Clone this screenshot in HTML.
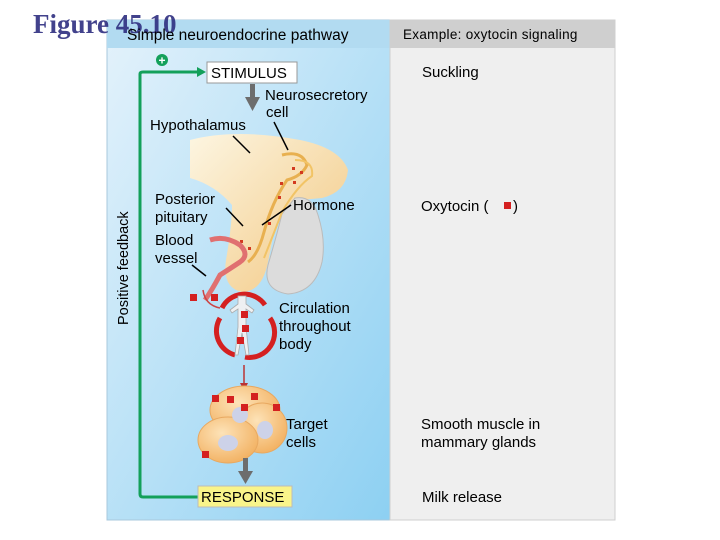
<!DOCTYPE html>
<html><head><style>
html,body{margin:0;padding:0;background:#fff;width:720px;height:540px;overflow:hidden}
svg{display:block}
.t{font-family:"Liberation Sans",Arial,sans-serif}
</style></head><body>
<svg width="720" height="540" viewBox="0 0 720 540" class="t" font-family="Liberation Sans, Arial, sans-serif">
<defs>
<linearGradient id="lb" x1="0" y1="0" x2="1" y2="1">
<stop offset="0" stop-color="#e4f2fb"/><stop offset="1" stop-color="#8dd0f2"/>
</linearGradient>
<radialGradient id="cell" cx="0.4" cy="0.35" r="0.7">
<stop offset="0" stop-color="#fde3b8"/><stop offset="1" stop-color="#f2b060"/>
</radialGradient>
<linearGradient id="hyp" x1="0" y1="0" x2="1" y2="1">
<stop offset="0" stop-color="#fff6e0"/><stop offset="1" stop-color="#f6c67a"/>
</linearGradient>
</defs>
<rect x="107" y="20" width="283" height="500" fill="url(#lb)" stroke="#a8c8dc"/>
<rect x="107" y="20" width="283" height="28" fill="#b2dbf1"/>
<rect x="390" y="20" width="225" height="500" fill="#efefef" stroke="#cfcfcf"/>
<rect x="390" y="20" width="225" height="28" fill="#cfcfcf"/>
<text x="33" y="33" style="font-family:'Liberation Serif',serif;font-weight:bold;font-size:27px" fill="#2d2d80" fill-opacity="0.9">Figure 45.10</text>
<text x="127" y="40" font-size="15.5">Simple neuroendocrine pathway</text>
<text x="403" y="39" font-size="13.5" letter-spacing="0.3">Example: oxytocin signaling</text>

<path d="M245 497 H143 Q140 497 140 494 V74 Q140 72 143 72 H198" fill="none" stroke="#13a05a" stroke-width="3"/>
<polygon points="206,72 197,67 197,77" fill="#13a05a"/>
<circle cx="162" cy="60" r="6" fill="#13a05a"/>
<text x="162" y="64.5" font-size="12" fill="#fff" text-anchor="middle" font-weight="bold">+</text>
<text x="128" y="325" font-size="14.5" transform="rotate(-90 128 325)">Positive feedback</text>

<rect x="207" y="62" width="90" height="21" fill="#fff" stroke="#999"/>
<text x="211" y="78" font-size="15">STIMULUS</text>
<rect x="250" y="84" width="5" height="14" fill="#6d6d6d"/>
<polygon points="245,97 260,97 252.5,111" fill="#6d6d6d"/>
<text x="265" y="100" font-size="15">Neurosecretory</text>
<text x="266" y="117" font-size="15">cell</text>
<text x="150" y="130" font-size="15">Hypothalamus</text>

<path d="M190 140 Q235 128 300 140 Q340 148 348 170 Q346 192 322 198 L300 200 Q280 205 274 232 L268 262 Q262 292 242 292 Q222 288 226 260 Q232 225 232 205 Q215 185 190 178 Z" fill="url(#hyp)" opacity="0.95"/>
<path d="M295 198 Q312 195 318 215 Q326 240 322 262 Q315 292 288 294 Q262 290 268 265 Q276 238 282 214 Z" fill="#dcdcdc" stroke="#bbb"/>
<path d="M282 155 Q302 150 307 165 Q302 176 287 180 Q272 202 264 232 Q258 255 248 262" fill="none" stroke="#e8b050" stroke-width="3"/>
<path d="M295 160 Q314 160 312 176 Q297 186 282 212 Q272 238 264 258" fill="none" stroke="#f2c466" stroke-width="2"/>
<g fill="#d33a20">
<rect x="292" y="167" width="3" height="3"/><rect x="300" y="171" width="3" height="3"/><rect x="293" y="181" width="3" height="3"/>
<rect x="280" y="182" width="3" height="3"/><rect x="278" y="196" width="3" height="3"/><rect x="268" y="222" width="3" height="3"/>
<rect x="240" y="240" width="3" height="3"/><rect x="248" y="247" width="3" height="3"/>
</g>
<line x1="233" y1="136" x2="250" y2="153" stroke="#000" stroke-width="1.5"/>
<line x1="274" y1="122" x2="288" y2="150" stroke="#000" stroke-width="1.5"/>
<path d="M210 240 Q225 235 240 245 Q250 255 240 262 Q228 270 220 275 Q212 290 205 300" fill="none" stroke="#e07070" stroke-width="5"/>
<text x="155" y="204" font-size="15">Posterior</text>
<text x="155" y="222" font-size="15">pituitary</text>
<text x="155" y="245" font-size="15">Blood</text>
<text x="155" y="263" font-size="15">vessel</text>
<line x1="226" y1="208" x2="243" y2="226" stroke="#000" stroke-width="1.5"/>
<line x1="192" y1="265" x2="206" y2="276" stroke="#000" stroke-width="1.5"/>
<text x="293" y="210" font-size="15">Hormone</text>
<line x1="291" y1="205" x2="262" y2="225" stroke="#000" stroke-width="1.5"/>

<rect x="190" y="294" width="7" height="7" fill="#d42020"/>
<rect x="211" y="294" width="7" height="7" fill="#d42020"/>
<path d="M203 290 Q205 305 220 308" fill="none" stroke="#c44" stroke-width="1.5"/>
<g stroke="#d42020" stroke-width="5" fill="none">
<path d="M222 308 A25 25 0 0 1 265 305"/>
<path d="M270 318 A25 25 0 0 1 245 357"/>
<path d="M235 355 A25 25 0 0 1 220 318"/>
</g>
<path d="M242 296 l4 0 l0 8 l8 6 l-2 3 l-6 -4 l0 18 l3 28 l-3 0 l-4 -22 l-4 22 l-3 0 l3 -28 l0 -18 l-6 4 l-2 -3 l8 -6 l0 -8 z" fill="#eef0f2" stroke="#aaa" stroke-width="0.8"/>
<g fill="#d42020"><rect x="241" y="311" width="7" height="7"/><rect x="242" y="325" width="7" height="7"/><rect x="237" y="337" width="7" height="7"/></g>
<text x="279" y="313" font-size="15">Circulation</text>
<text x="279" y="331" font-size="15">throughout</text>
<text x="279" y="349" font-size="15">body</text>
<line x1="244" y1="365" x2="244" y2="385" stroke="#b33" stroke-width="1.5"/>
<polygon points="240,383 248,383 244,391" fill="#b33"/>

<ellipse cx="245" cy="410" rx="35" ry="24" fill="url(#cell)" stroke="#e8a860"/>
<ellipse cx="262" cy="428" rx="25" ry="25" fill="url(#cell)" stroke="#e8a860"/>
<ellipse cx="228" cy="440" rx="30" ry="23" fill="url(#cell)" stroke="#e8a860"/>
<ellipse cx="240" cy="415" rx="8" ry="8" fill="#cdd2e8"/>
<ellipse cx="265" cy="430" rx="8" ry="9" fill="#cdd2e8"/>
<ellipse cx="228" cy="443" rx="10" ry="8" fill="#cdd2e8"/>
<g fill="#d42020"><rect x="212" y="395" width="7" height="7"/><rect x="227" y="396" width="7" height="7"/><rect x="251" y="393" width="7" height="7"/><rect x="241" y="404" width="7" height="7"/><rect x="273" y="404" width="7" height="7"/><rect x="202" y="451" width="7" height="7"/></g>
<text x="286" y="429" font-size="15">Target</text>
<text x="286" y="447" font-size="15">cells</text>
<rect x="243" y="458" width="5" height="14" fill="#6d6d6d"/>
<polygon points="238,471 253,471 245.5,484" fill="#6d6d6d"/>
<rect x="198" y="486" width="94" height="21" fill="#f9f48a" stroke="#bbb"/>
<text x="201" y="502" font-size="15">RESPONSE</text>

<text x="422" y="77" font-size="15">Suckling</text>
<text x="421" y="211" font-size="15">Oxytocin (</text>
<rect x="504" y="202" width="7" height="7" fill="#d42020"/>
<text x="513" y="211" font-size="15">)</text>
<text x="421" y="429" font-size="15">Smooth muscle in</text>
<text x="421" y="447" font-size="15">mammary glands</text>
<text x="422" y="502" font-size="15">Milk release</text>
</svg>
</body></html>
